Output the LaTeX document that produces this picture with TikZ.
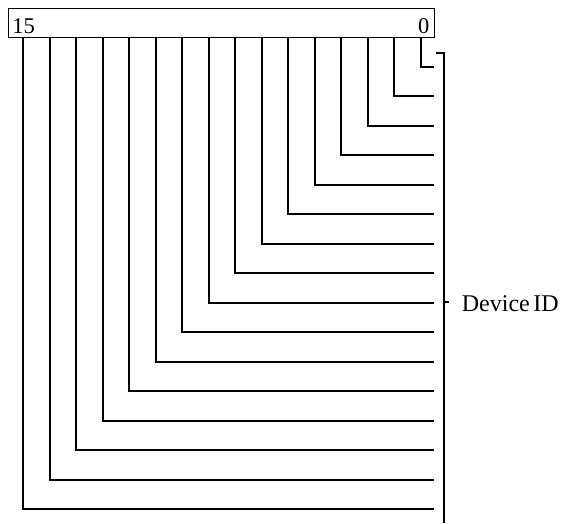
\documentclass[tikz,border=0pt]{standalone}
\usepackage{fontspec}
\setmainfont{Liberation Serif}
\begin{document}
\begin{tikzpicture}[x=1pt,y=-1pt,
  wire/.style={line width=1.3pt,line cap=butt},
  regbox/.style={draw,line width=1.3pt,minimum width=426pt,minimum height=29pt,inner sep=0pt,anchor=north west},
  lbl/.style={font=\fontsize{22.5}{26}\selectfont,inner sep=0pt},
  devlbl/.style={font=\fontsize{24}{28}\selectfont,inner sep=0pt}]
\useasboundingbox (0,0) rectangle (561,523);
\node[regbox] (reg) at (8,8) {};
\node[lbl,anchor=base west] (hi) at (12.3,33.3) {15};
\node[lbl,anchor=base east] (lo) at (429.5,33.3) {0};
\foreach \i in {0,...,15}{
  \coordinate (b\i) at ({round(421-\i*26.533)},37);
  \coordinate (e\i) at (434,{round(67+\i*29.467)});
  \draw[wire] (b\i) |- (e\i);
}
\coordinate (bt) at (436,53);
\coordinate (bc) at (444,53);
\coordinate (bb) at (444,523);
\coordinate (bm) at (444,302);
\coordinate (bmt) at (448.5,302);
\draw[wire] (bt) -- (bc) -- (bb);
\draw[wire] (bm) -- (bmt);
\node[devlbl,anchor=base west] (dev) at (461.7,311) {Device\hspace{3.5pt}ID};
\end{tikzpicture}
\end{document}
